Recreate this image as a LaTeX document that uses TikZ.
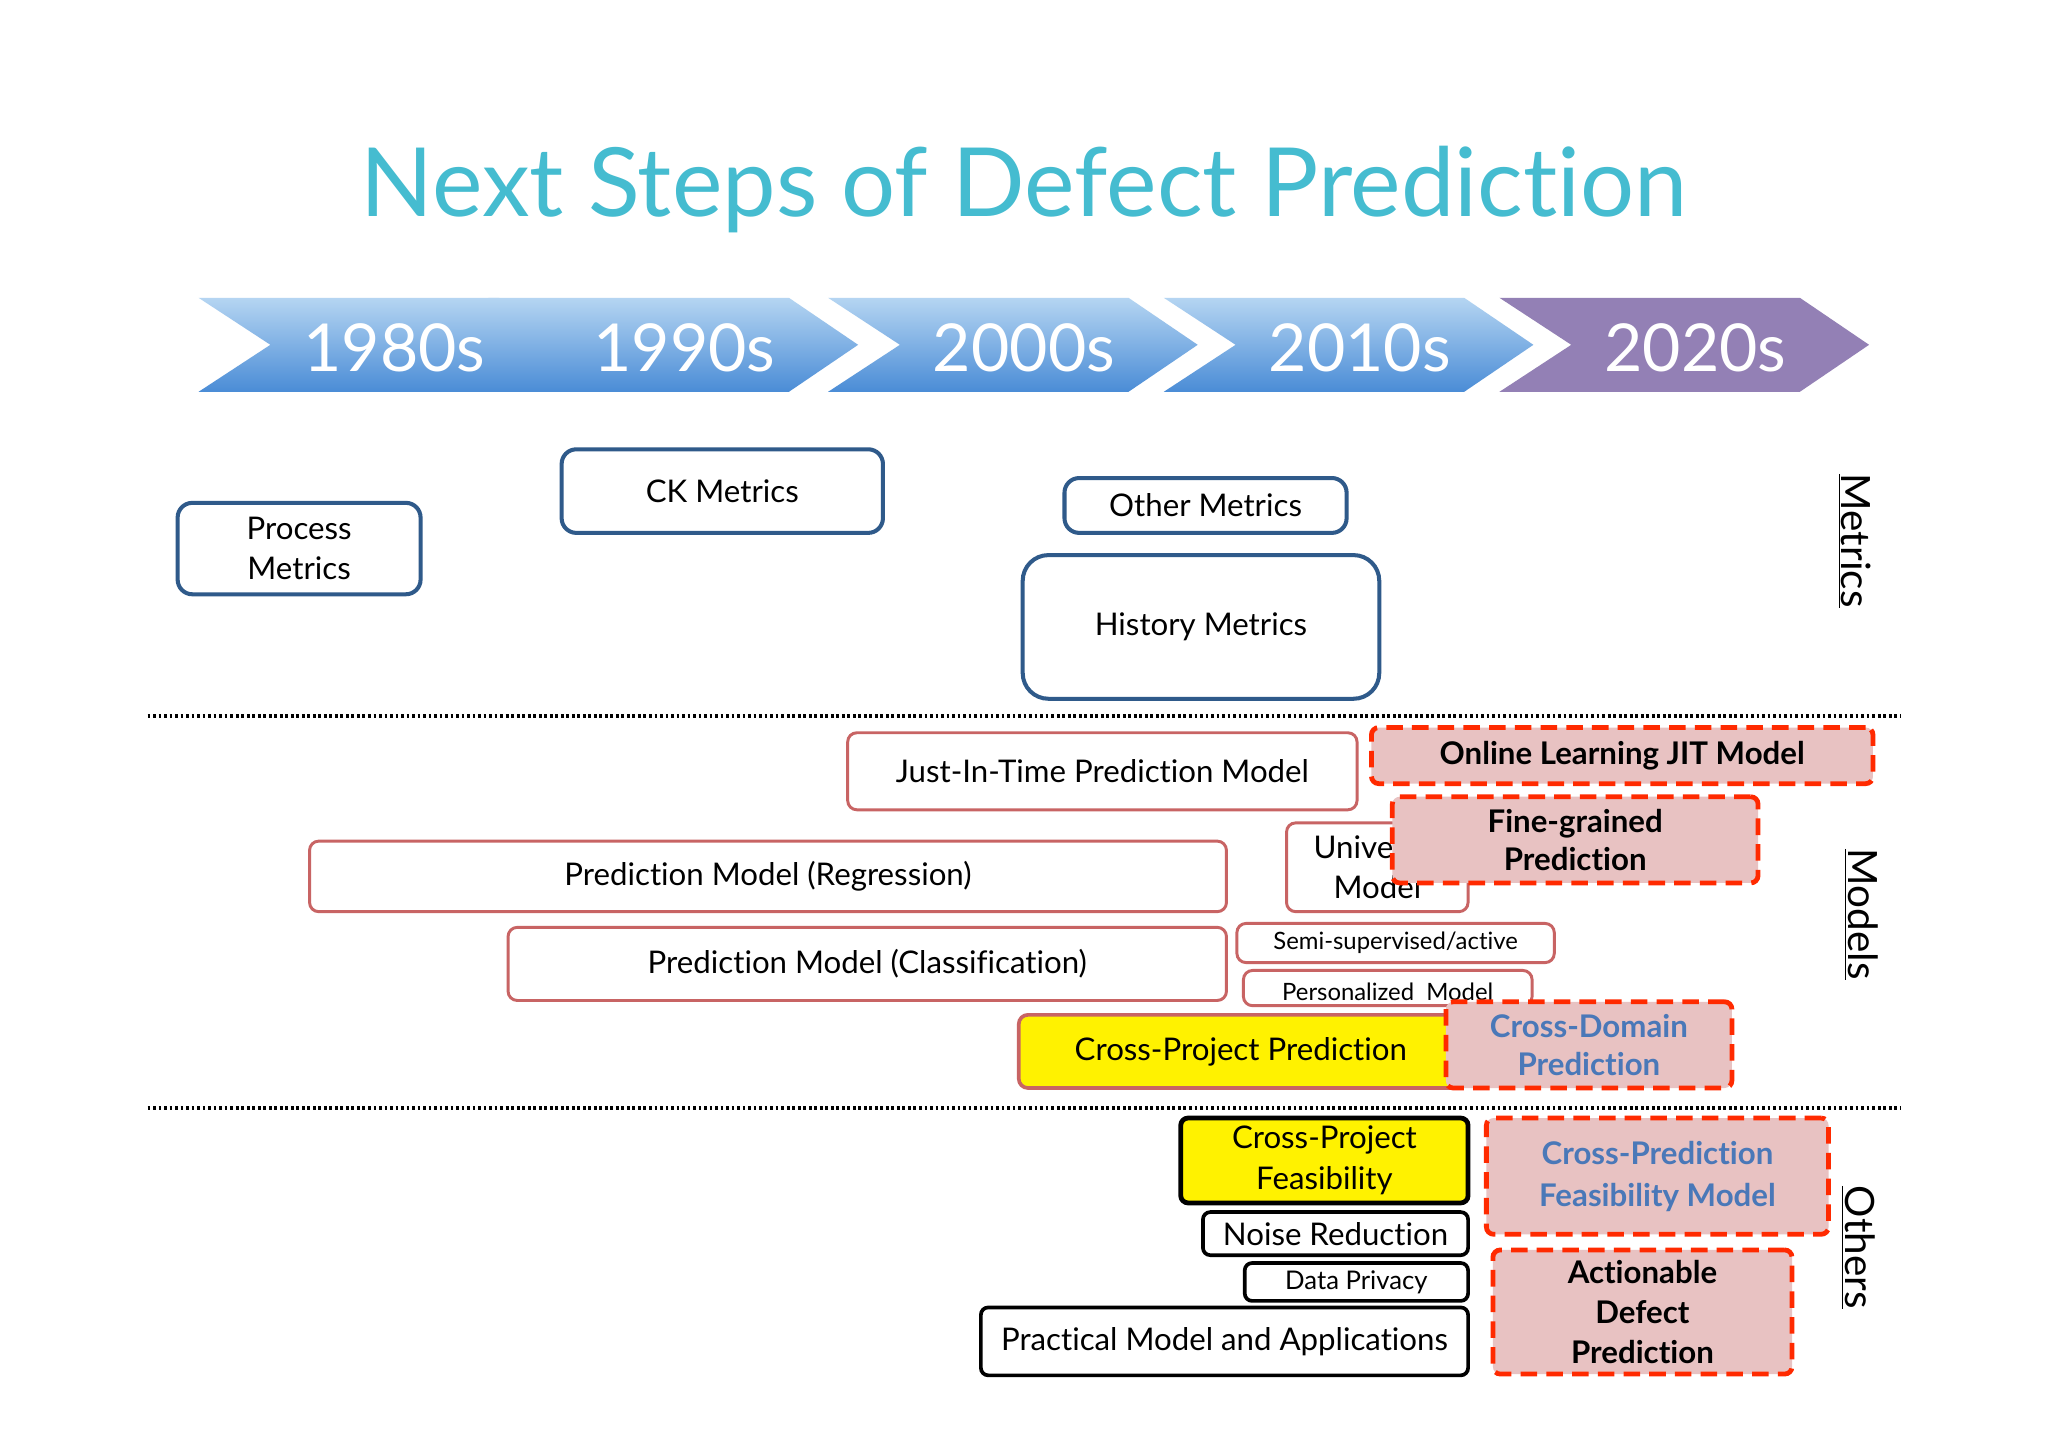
\documentclass[tikz,border=0pt]{standalone}
\usepackage{fontspec}
\setmainfont{Lato}[Ligatures={NoCommon,NoRare,NoDiscretionary}]
\usetikzlibrary{fit}
\definecolor{bluebd}{HTML}{2F5A8A}
\definecolor{redbd}{HTML}{C86464}
\definecolor{dashred}{HTML}{FF2A00}
\definecolor{pinkf}{HTML}{E8C2C2}
\definecolor{txtblue}{HTML}{4A78B8}
\definecolor{titlec}{HTML}{45BCD0}
\definecolor{purp}{HTML}{9380B5}
\definecolor{chtop}{HTML}{B5D5F2}
\definecolor{chbot}{HTML}{4A8CD6}
\tikzset{
 bb/.style={draw=bluebd,line width=2.2pt,rounded corners=8pt,inner sep=0pt,align=center,font=\fontsize{17}{22}\selectfont},
 rb/.style={draw=redbd,line width=1.6pt,rounded corners=5pt,inner sep=0pt,align=center,font=\fontsize{17}{22}\selectfont},
 kb/.style={draw=black,line width=2pt,rounded corners=4pt,inner sep=0pt,align=center,font=\fontsize{17}{22}\selectfont},
 nb/.style={draw=dashred,dashed,dash pattern=on 9pt off 5pt,line width=2.6pt,fill=pinkf,rounded corners=4pt,inner sep=0pt,align=center,font=\fontsize{17}{21}\selectfont\bfseries},
 yr/.style={text=white,font=\fontsize{36}{40}\selectfont},
 side/.style={rotate=-90,font=\fontsize{22}{24}\selectfont},
 sepl/.style={line width=2.2pt,dash pattern=on 1.5pt off 1.5pt}
}
\begin{document}
\begin{tikzpicture}[x=0.025cm,y=-0.025cm]
\useasboundingbox[fill=white] (0,0) rectangle (1568,1108);
\node[text=titlec,font=\fontsize{52}{56}\selectfont] (title) at (784,145) {Next Steps of Defect Prediction};
% chevrons
\foreach \x/\lab [count=\i] in {152/1980s,374/1990s,634/2000s,891/2010s}{
   \shade[top color=chtop,bottom color=chbot]
     (\x,228) -- (\x+230,228) -- (\x+283,264) -- (\x+230,300) -- (\x,300) -- (\x+55,264) -- cycle;
  \node[yr] (y\i) at (\x+150,266) {\lab};
}
\fill[purp] (1148,228) -- (1378,228) -- (1431,264) -- (1378,300) -- (1148,300) -- (1203,264) -- cycle;
\node[yr] (y5) at (1298,266) {2020s};
% metrics
\node[bb,fit={(136,385) (322,455)}] (pm) {};
\node[font=\fontsize{17}{22}\selectfont,align=center] at (pm) {Process\\Metrics};
\node[bb,fit={(430,344) (676,408)}] (ck) {};
\node[font=\fontsize{17}{22}\selectfont] at (ck) {CK Metrics};
\node[bb,fit={(815,366) (1031,408)}] (om) {};
\node[font=\fontsize{17}{22}\selectfont] at (om) {Other Metrics};
\node[bb,rounded corners=14pt,fit={(783,425) (1056,535)}] (hm) {};
\node[font=\fontsize{17}{22}\selectfont] at (hm) {History Metrics};
\draw[sepl] (113,548) -- (1455,548);
\draw[sepl] (113,848) -- (1455,848);
% models
\node[rb,fit={(649,561) (1039,620)}] (jit) {};
\node[font=\fontsize{17}{22}\selectfont] at (jit) {Just-In-Time Prediction Model};
\node[nb,fit={(1050,557) (1434,600)}] (ol) {};
\node[font=\fontsize{17}{21}\selectfont\bfseries] at (ol) {Online Learning JIT Model};
\node[rb,fit={(985,630) (1124,698)}] (um) {};
\node[font=\fontsize{17}{22}\selectfont,align=center] at (um) {Universal\\Model};
\node[nb,fit={(1066,610) (1346,676)}] (fg) {};
\node[font=\fontsize{17}{21}\selectfont\bfseries,align=center] at (fg) {Fine-grained\\Prediction};
\node[rb,fit={(237,644) (939,698)}] (reg) {};
\node[font=\fontsize{17}{22}\selectfont] at (reg) {Prediction Model (Regression)};
\node[rb,fit={(389,710) (939,766)}] (cls) {};
\node[font=\fontsize{17}{22}\selectfont] at (cls) {Prediction Model (Classification)};
\node[rb,fit={(947,707) (1190,737)}] (semi) {};
\node[font=\fontsize{13}{16}\selectfont] at (semi) {Semi-supervised/active};
\node[rb,fit={(952,743) (1173,770)}] (pers) {};
\node[font=\fontsize{13}{16}\selectfont] at ([yshift=-2pt]pers) {Personalized\ \ Model};
\node[rb,line width=2pt,fill=yellow,fit={(780,777) (1120,833)}] (cpp) {};
\node[font=\fontsize{17}{22}\selectfont] at (cpp) {Cross-Project Prediction};
\node[nb,fit={(1107,767) (1326,833)}] (cd) {};
\node[font=\fontsize{17}{21}\selectfont\bfseries,text=txtblue,align=center] at (cd) {Cross-Domain\\Prediction};
% others
\node[kb,line width=2.6pt,fill=yellow,fit={(904,856) (1124,921)}] (cpf) {};
\node[font=\fontsize{17}{22}\selectfont,align=center] at (cpf) {Cross-Project\\Feasibility};
\node[kb,fit={(921,928) (1124,961)}] (nr) {};
\node[font=\fontsize{17}{22}\selectfont] at (nr) {Noise Reduction};
\node[kb,fit={(953,967) (1124,996)}] (dp) {};
\node[font=\fontsize{14}{17}\selectfont] at (dp) {Data Privacy};
\node[kb,fit={(751,1001) (1124,1053)}] (pma) {};
\node[font=\fontsize{17}{22}\selectfont] at (pma) {Practical Model and Applications};
\node[nb,fit={(1138,856) (1400,945)}] (cpfm) {};
\node[font=\fontsize{17}{23}\selectfont\bfseries,text=txtblue,align=center] at (cpfm) {Cross-Prediction\\Feasibility Model};
\node[nb,fit={(1143,957) (1372,1052)}] (adp) {};
\node[font=\fontsize{17}{22}\selectfont\bfseries,align=center] at (adp) {Actionable\\Defect\\Prediction};
% side labels
\node[side] (sm) at (1420,414) {\underline{Metrics}};
\node[side] (smo) at (1425,700) {\underline{Models}};
\node[side] (so) at (1423,955) {\underline{Others}};
\end{tikzpicture}
\end{document}
